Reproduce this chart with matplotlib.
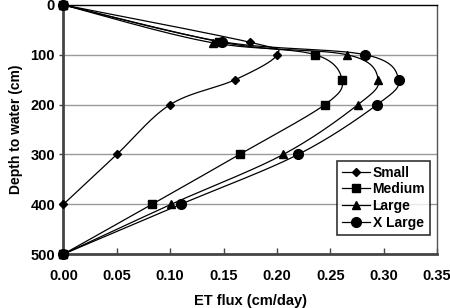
import numpy as np
import matplotlib
matplotlib.use("Agg")
import matplotlib.pyplot as plt

plt.rcParams['font.family'] = ['Liberation Sans', 'DejaVu Sans']

small_depth = [0, 75, 100, 150, 200, 300, 400]
small_flux = [0.0, 0.175, 0.200, 0.161, 0.100, 0.050, 0.0]

medium_depth = [0, 74, 100, 150, 200, 300, 400, 500]
medium_flux = [0.0, 0.146, 0.236, 0.261, 0.245, 0.165, 0.083, 0.0]

large_depth = [0, 76, 100, 150, 200, 300, 400, 500]
large_flux = [0.0, 0.140, 0.266, 0.295, 0.276, 0.206, 0.101, 0.0]

xlarge_depth = [0, 74, 100, 150, 200, 300, 400, 500]
xlarge_flux = [0.0, 0.149, 0.283, 0.314, 0.294, 0.220, 0.110, 0.0]

names = ["Small", "Medium", "Large", "X Large"]
markers = ["D", "s", "^", "o"]
msizes = [4, 5.5, 6, 7]


def smooth(x, y, xs=0.35, ys=500 * 1.5, n=30, t=0.5):
    # cardinal spline in normalized coordinates (Excel-like smoothing)
    P = np.column_stack([np.asarray(x) / xs, np.asarray(y) / ys])
    out = [P[0]]
    for i in range(len(P) - 1):
        p0 = P[i - 1] if i > 0 else P[i]
        p1, p2 = P[i], P[i + 1]
        p3 = P[i + 2] if i + 2 < len(P) else P[i + 1]
        m1 = t * (p2 - p0)
        m2 = t * (p3 - p1)
        s = np.linspace(0, 1, n)[1:, None]
        h00 = 2 * s**3 - 3 * s**2 + 1
        h10 = s**3 - 2 * s**2 + s
        h01 = -2 * s**3 + 3 * s**2
        h11 = s**3 - s**2
        seg = h00 * p1 + h10 * m1 + h01 * p2 + h11 * m2
        out.extend(seg)
    out = np.array(out)
    return out[:, 0] * xs, out[:, 1] * ys


fig = plt.figure(figsize=(4.5, 3.08), dpi=100)
ax = fig.add_axes([0.141, 0.175, 0.830, 0.809])

series = [(small_flux, small_depth), (medium_flux, medium_depth),
          (large_flux, large_depth), (xlarge_flux, xlarge_depth)]
for (fx, dy), name, m, ms in zip(series, names, markers, msizes):
    sx, sy = smooth(fx, dy)
    ax.plot(sx, sy, color='black', lw=0.9, zorder=3)
    ax.plot(fx, dy, linestyle='none', marker=m, color='black', ms=ms, zorder=4,
            clip_on=False)
    ax.plot([], [], color='black', lw=0.9, marker=m, ms=ms, label=name)

ax.set_xlim(0, 0.35)
ax.set_ylim(500, 0)
ax.set_xticks(np.arange(0, 0.351, 0.05))
ax.set_xticklabels([f"{v:.2f}" for v in np.arange(0, 0.351, 0.05)])
ax.set_yticks([0, 100, 200, 300, 400, 500])
for yv in [100, 200, 300, 400]:
    ax.axhline(yv, color='#999999', lw=1.0, zorder=1)

for lab in ax.get_xticklabels() + ax.get_yticklabels():
    lab.set_fontweight('bold')
    lab.set_fontsize(10.5)
ax.tick_params(axis='x', direction='in', length=4, width=1, pad=11, color='#444444')
ax.tick_params(axis='y', direction='out', length=3, width=1, pad=3, color='#444444')

ax.spines['left'].set_linewidth(2)
ax.spines['left'].set_color('#444444')
ax.spines['bottom'].set_linewidth(2)
ax.spines['bottom'].set_color('#444444')
ax.spines['top'].set_linewidth(1)
ax.spines['right'].set_linewidth(1)
ax.spines['right'].set_color('#555555')

ax.set_xlabel("ET flux (cm/day)", fontweight='bold', fontsize=10.5, labelpad=8)
ax.set_ylabel("Depth to water (cm)", fontweight='bold', fontsize=10, labelpad=5)

leg = ax.legend(loc='lower right', bbox_to_anchor=(1.0, 0.05), frameon=True,
                fancybox=False, edgecolor='black', handlelength=2.0,
                handletextpad=0.2, borderpad=0.35, labelspacing=0.2,
                prop={'weight': 'bold', 'size': 10})
leg.get_frame().set_linewidth(1.2)

fig.savefig("out.png", dpi=100)
